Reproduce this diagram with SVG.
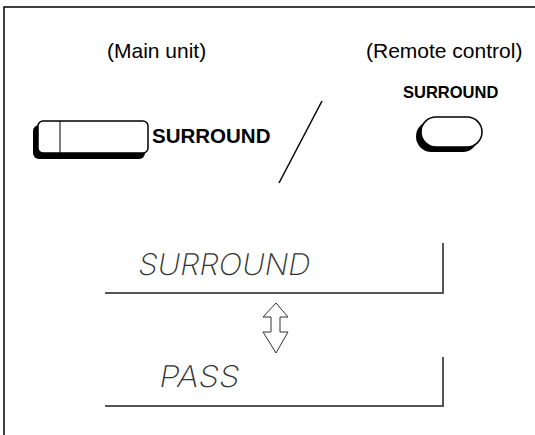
<svg xmlns="http://www.w3.org/2000/svg" width="535" height="435" viewBox="0 0 535 435">
<style>
.lbl{font-family:"Liberation Sans",Arial,sans-serif;font-size:21px;fill:#000}
.btn{font-family:"Liberation Sans",Arial,sans-serif;font-weight:bold;fill:#000}
.seg{font-family:Inter,"DejaVu Sans",sans-serif;font-weight:200;font-size:30px;fill:#333}
.disp{fill:none;stroke:#555;stroke-width:2}
.frame{fill:none;stroke:#000;stroke-width:1.5}
</style>
<rect width="535" height="435" fill="#fff"/>
<path class="frame" d="M4,435 V7 H535"/>
<g id="label-main"><text class="lbl" x="107" y="58">(Main unit)</text></g>
<g id="label-remote"><text class="lbl" x="366" y="58">(Remote control)</text></g>
<g id="main-button">
<rect x="33" y="125" width="112" height="34" rx="6" fill="#000"/>
<rect x="38" y="121" width="110" height="32" rx="5" fill="#fff" stroke="#000" stroke-width="1.5"/>
<line x1="60" y1="121" x2="60" y2="153" stroke="#000" stroke-width="1"/>
<text class="btn" x="152" y="143" font-size="20.5">SURROUND</text>
</g>
<g id="remote-button">
<text class="btn" x="403" y="98" font-size="16.5">SURROUND</text>
<rect x="416" y="121" width="62" height="31" rx="15.5" fill="#000"/>
<rect x="421" y="117" width="61" height="30" rx="15" fill="#fff" stroke="#000" stroke-width="1.5"/>
</g>
<g id="connectors">
<line x1="322" y1="101" x2="279" y2="183" stroke="#000" stroke-width="1.5"/>
<path d="M276,303 L288,317 L280,317 L280,332 L288,332 L276,353 L263,332 L271,332 L271,317 L263,317 Z" fill="#fff" stroke="#333" stroke-width="1"/>
</g>
<g id="display-surround">
<path class="disp" d="M105,293 H443 V243"/>
<text class="seg" transform="translate(137,275) skewX(-10)" x="0" y="0" textLength="172" lengthAdjust="spacingAndGlyphs">SURROUND</text>
</g>
<g id="display-pass">
<path class="disp" d="M105,406 H443 V357"/>
<text class="seg" transform="translate(158,387) skewX(-10)" x="0" y="0" textLength="80" lengthAdjust="spacingAndGlyphs">PASS</text>
</g>
</svg>
